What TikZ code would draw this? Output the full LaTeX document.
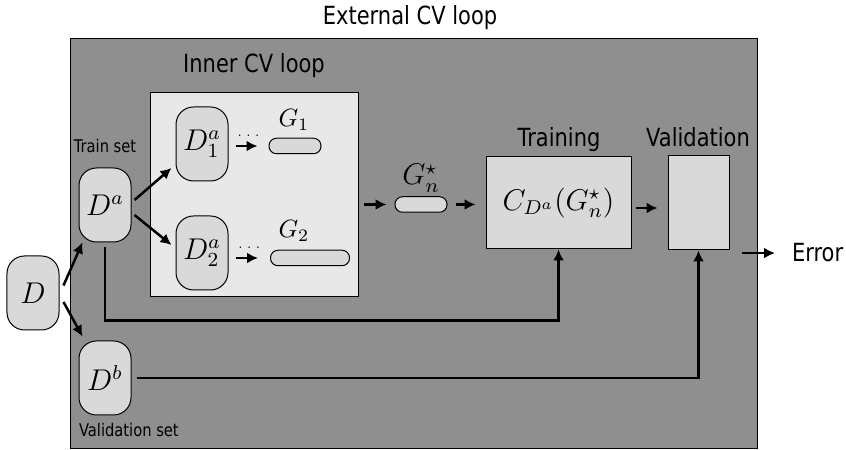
\documentclass[tikz,border=0pt]{standalone}
\usepackage{fontspec}
\newfontfamily\tahoma[FakeStretch=0.84]{DejaVu Sans}
\usepackage{xcolor}
\usetikzlibrary{arrows.meta}
\definecolor{outergray}{gray}{0.56}
\definecolor{innergray}{gray}{0.91}
\definecolor{nodegray}{gray}{0.85}

\begin{document}
\begin{tikzpicture}[x=0.4pt,y=-0.4pt,>={Latex[length=4.4pt,width=4.4pt]},
  dset/.style={draw,thin,fill=nodegray,rounded corners=7pt,minimum width=20.8pt,minimum height=29.6pt,inner sep=0pt,font=\large},
  gbar/.style={draw,thin,fill=nodegray,rounded corners=3pt,minimum height=6.2pt,inner sep=0pt},
  box/.style={draw,thin,fill=nodegray,inner sep=0pt},
  arr/.style={->,line width=1pt},
  txt/.style={font=\tahoma,inner sep=1pt}]

\useasboundingbox (0,0) rectangle (846,450);

%External CV loop
\node[txt] (extlabel) at (410,18) {External CV loop};
\draw[thin,fill=outergray] (70,39) rectangle (757,449);

%Inner CV loop
\node[txt] (innerlabel) at (254,66) {Inner CV loop};
\node[draw,thin,fill=innergray,minimum width=83.2pt,minimum height=81.6pt] (inner) at (254,195) {};

%Datensaetze
\node[dset] (D) at (33,293) {$D$};
\node[dset] (Da) at (105,205) {$D^a$};
\node[dset] (Db) at (105,378) {$D^b$};
\node[dset] (Da1) at (202,144) {$D^a_1$};
\node[dset] (Da2) at (202,253) {$D^a_2$};
\node[txt,font=\tahoma\scriptsize,anchor=base] (trainset) at (105,153) {Train set};
\node[txt,font=\tahoma\scriptsize,anchor=base west] (valset) at (76,437) {Validation set};

%Modelle
\node[gbar,minimum width=20.8pt] (G1) at (295,146) {};
\node[gbar,minimum width=31.6pt] (G2) at (310,258) {};
\node[gbar,minimum width=20.8pt] (Gs) at (421,204.5) {};
\node[anchor=base] (G1label) at (294,127) {$G_1$};
\node[anchor=base] (G2label) at (294,238) {$G_2$};
\node[anchor=base,font=\large] (Gslabel) at (421,185) {$G^\star_n$};

%Training und Validierung
\node[box,minimum width=58pt,minimum height=36.8pt,font=\large] (train) at (558.5,203) {$C_{D^a}(G^\star_n)$};
\node[box,minimum width=24.4pt,minimum height=37.6pt] (val) at (698.5,203) {};
\node[txt,anchor=base] (trainlabel) at (559,147) {Training};
\node[txt,anchor=base] (vallabel) at (698,147) {Validation};
\node[txt,anchor=base west] (err) at (789,262) {Error};

%Pfeile
\draw[arr] ([xshift=1.6pt,yshift=3pt]D.east) -- ([xshift=1.6pt]Da.south west);
\draw[arr] ([xshift=1.6pt,yshift=-3.6pt]D.east) -- ([xshift=1.6pt,yshift=1.6pt]Db.north west);
\draw[arr] ([xshift=1.2pt,yshift=2pt]Da.east) -- ([xshift=-1.6pt,yshift=-9.6pt]Da1.west);
\draw[arr] ([xshift=1.2pt,yshift=-4pt]Da.east) -- ([xshift=-1.6pt,yshift=3.2pt]Da2.west);

\draw[arr,shorten <=2.8pt,shorten >=4.4pt] (Da1.east |- G1) -- node[above=3pt,font=\tiny,inner sep=0pt] {$\dots$} (G1.west);
\draw[arr,shorten <=2.8pt,shorten >=4.8pt] (Da2.east |- G2) -- node[above=3pt,font=\tiny,inner sep=0pt] {$\dots$} (G2.west);

\draw[arr,shorten <=2pt,shorten >=3.2pt] (inner.east |- Gs) -- (Gs.west);
\draw[arr,shorten <=3.2pt,shorten >=4pt] (Gs.east) -- (train.west |- Gs);
\draw[arr,shorten <=1.6pt,shorten >=4pt] ([yshift=-2pt]train.east) -- ([yshift=-2pt]val.west);
\draw[arr,shorten <=4.8pt,shorten >=5.6pt] (err.west -| val.east) -- (err.west);

\draw[arr,shorten <=2pt] (Da.south) -- ++(0,78) -| (train.south);
\draw[arr,shorten <=2pt] (Db.east) -| (val.south);

\end{tikzpicture}
\end{document}
